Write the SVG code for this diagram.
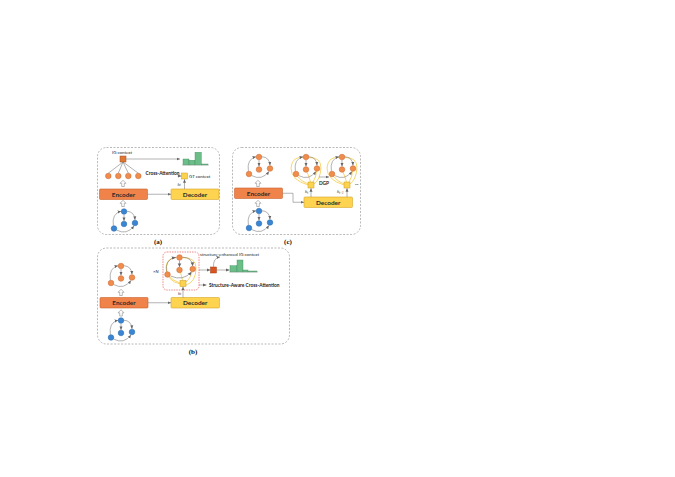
<svg xmlns="http://www.w3.org/2000/svg" width="675" height="477" viewBox="0 0 675 477">
<defs>
<style>
.panel{fill:none;stroke:#8a8a8a;stroke-width:0.6;stroke-dasharray:2 1.5}
.red{fill:none;stroke:#E03C3C;stroke-width:0.6;stroke-dasharray:1.5 1}
.enc{fill:#F0834A;stroke:#C7622C;stroke-width:0.6}
.dec{fill:#FDD34F;stroke:#D6A62A;stroke-width:0.6}
.btxt{font-family:Lato,"Liberation Sans",sans-serif;font-weight:bold;font-size:6.4px;fill:#2a2a2a;text-anchor:middle}
.txt{font-family:Lato,"Liberation Sans",sans-serif;font-size:4.4px;fill:#222}
.bsm{font-family:Lato,"Liberation Sans",sans-serif;font-weight:bold;font-size:4.8px;fill:#222}
.on{fill:#F08D4C;stroke:#C8652E;stroke-width:0.5}
.bn{fill:#3A86D4;stroke:#2866A8;stroke-width:0.5}
.e{fill:none;stroke:#666;stroke-width:0.5}
.ea{fill:none;stroke:#666;stroke-width:0.5;marker-end:url(#ah)}
.y{fill:none;stroke:#F4C430;stroke-width:0.7}
.ysq{fill:#FCD34F;stroke:#C99A25;stroke-width:0.5}
.osq{fill:#E07835;stroke:#A4501E;stroke-width:0.5}
.hist{fill:#6BBE88;stroke:#3E8E5C;stroke-width:0.4}
.base{stroke:#999;stroke-width:0.4}
.hollow{fill:#fff;stroke:#777;stroke-width:0.5}
.lab{font-family:"Liberation Serif",serif;font-weight:bold;font-size:7px;fill:#111;text-anchor:middle}
.it{font-family:"Liberation Serif",serif;font-style:italic;font-size:4.5px;fill:#222}
</style>
<marker id="ah" markerWidth="4" markerHeight="4" refX="3.5" refY="2" orient="auto" markerUnits="userSpaceOnUse">
<path d="M0,0.5 L3.5,2 L0,3.5 Z" fill="#666"/>
</marker>
<g id="ring">
<path class="ea" d="M0,-7 L0,-0.6"/>
<path class="ea" d="M2.6,-10.3 Q10.5,-10 11,-1.6"/>
<path class="ea" d="M-10.6,4.3 Q-12.5,-8 -2.9,-10.3"/>
<path class="ea" d="M-7.3,8.6 Q3,14 10,4.4"/>
</g>
<path id="hol" class="hollow" d="M0,-3.2 L3,-0.2 L1.3,-0.2 L1.3,3 L-1.3,3 L-1.3,-0.2 L-3,-0.2 Z"/>
</defs>
<rect width="675" height="477" fill="#fff"/>

<!-- Panel (a) -->
<g id="panel-a">
<rect class="panel" x="97.5" y="147.5" width="122" height="87" rx="9"/>
<text class="lab" x="158" y="244">(a)</text>
</g>
<g id="a-ig-context">
<text class="txt" x="122" y="154" text-anchor="middle">IG context</text>
<rect class="osq" x="120" y="156" width="6" height="6"/>
</g>
<g id="a-hist">
<rect class="hist" x="183" y="159" width="6" height="6"/>
<rect class="hist" x="189" y="160.3" width="6" height="4.7"/>
<rect class="hist" x="195" y="152.3" width="6.3" height="12.7"/>
<rect class="hist" x="201.3" y="164" width="6.7" height="1"/>
</g>
<g id="a-context-nodes">
<circle class="on" cx="108.3" cy="176" r="2.8"/>
<circle class="on" cx="118.3" cy="176" r="2.8"/>
<circle class="on" cx="128.3" cy="176" r="2.8"/>
<circle class="on" cx="138.3" cy="176" r="2.8"/>
<text class="bsm" x="145.5" y="175" font-size="4.4">Cross-Attention</text>
</g>
<g id="a-gt-context">
<rect class="ysq" x="181.5" y="173" width="6" height="6"/>
<text class="txt" x="189" y="177.5">GT context</text>
<text class="it" x="177.5" y="185.5">h<tspan font-size="3" dy="0.8">t</tspan></text>
</g>
<g id="a-encoder"><rect class="enc" x="99.5" y="189" width="48" height="10.5" rx="1"/><text class="btxt" x="123.5" y="196.5">Encoder</text></g>
<g id="a-decoder"><rect class="dec" x="171" y="189" width="48" height="10.5" rx="1"/><text class="btxt" x="195" y="196.5">Decoder</text></g>
<g id="a-graph">
<use href="#ring" transform="translate(124,221.5)"/>
<circle class="bn" cx="124" cy="211.5" r="2.8"/>
<circle class="bn" cx="114" cy="228.5" r="2.8"/>
<circle class="bn" cx="124" cy="224" r="2.8"/>
<circle class="bn" cx="135" cy="223" r="2.8"/>
</g>

<!-- Panel (c) -->
<g id="panel-c">
<rect class="panel" x="232.5" y="147.5" width="128" height="87" rx="9"/>
<text class="lab" x="288" y="244">(c)</text>
</g>
<g id="c-top-graph">
<use href="#ring" transform="translate(259,167)"/>
<circle class="on" cx="259" cy="157" r="2.8"/>
<circle class="on" cx="249" cy="174" r="2.8"/>
<circle class="on" cx="259" cy="169.5" r="2.8"/>
<circle class="on" cx="270" cy="168.5" r="2.8"/>
</g>
<g id="c-encoder"><rect class="enc" x="234.5" y="188" width="48" height="10.5" rx="1"/><text class="btxt" x="258.5" y="195.5">Encoder</text></g>
<g id="c-decoder"><rect class="dec" x="304" y="197" width="48.5" height="10.5" rx="1"/><text class="btxt" x="328.2" y="204.5">Decoder</text></g>
<g id="c-blue-graph">
<use href="#ring" transform="translate(259,221)"/>
<circle class="bn" cx="259" cy="211" r="2.8"/>
<circle class="bn" cx="249" cy="228" r="2.8"/>
<circle class="bn" cx="259" cy="223.5" r="2.8"/>
<circle class="bn" cx="270" cy="222.5" r="2.8"/>
</g>
<g id="c-dgp1">
<path class="y" d="M303.5,157.5 Q292,156 291,168 Q291,180 308,185"/>
<path class="y" d="M296,175 Q302,182 308,184"/>
<path class="y" d="M306,170 Q309,176 310.5,182"/>
<path class="y" d="M317,169 Q316,178 313,182"/>
<path class="y" d="M308.5,157.5 Q321,157 321,168 Q320,180 314,184"/>
<use href="#ring" transform="translate(306,167)"/>
<circle class="on" cx="306" cy="157" r="2.8"/>
<circle class="on" cx="296" cy="174" r="2.8"/>
<circle class="on" cx="306" cy="169.5" r="2.8"/>
<circle class="on" cx="317" cy="168.5" r="2.8"/>
<rect class="ysq" x="308" y="182" width="6" height="6"/>
<text class="it" x="305" y="193">h<tspan font-size="3" dy="0.8">t</tspan></text>
</g>
<g id="c-dgp2">
<path class="y" d="M339.5,157.5 Q328,156 327,168 Q327,180 344,185"/>
<path class="y" d="M332,175 Q338,182 344,184"/>
<path class="y" d="M342,170 Q345,176 346.5,182"/>
<path class="y" d="M353,169 Q352,178 349,182"/>
<path class="y" d="M344.5,157.5 Q357,157 357,168 Q356,180 350,184"/>
<use href="#ring" transform="translate(342,167)"/>
<circle class="on" cx="342" cy="157" r="2.8"/>
<circle class="on" cx="332" cy="174" r="2.8"/>
<circle class="on" cx="342" cy="169.5" r="2.8"/>
<circle class="on" cx="353" cy="168.5" r="2.8"/>
<rect class="ysq" x="344" y="182" width="6" height="6"/>
<text class="it" x="337" y="193">h<tspan font-size="3" dy="0.8">t+1</tspan></text>
</g>
<g id="c-dgp-label"><text class="bsm" x="324" y="184.5" text-anchor="middle" font-size="4.2">DGP</text><text class="bsm" x="355" y="185" font-size="5">...</text></g>

<!-- Panel (b) -->
<g id="panel-b">
<rect class="panel" x="97.5" y="248" width="192" height="96" rx="9"/>
<text class="lab" x="193" y="354">(b)</text>
</g>
<g id="b-top-graph">
<use href="#ring" transform="translate(121,276)"/>
<circle class="on" cx="121" cy="266" r="2.8"/>
<circle class="on" cx="111" cy="283" r="2.8"/>
<circle class="on" cx="121" cy="278.5" r="2.8"/>
<circle class="on" cx="132" cy="277.5" r="2.8"/>
</g>
<g id="b-encoder"><rect class="enc" x="100" y="297.5" width="48" height="10.5" rx="1"/><text class="btxt" x="124" y="305">Encoder</text></g>
<g id="b-decoder"><rect class="dec" x="171" y="297.5" width="48.5" height="10.5" rx="1"/><text class="btxt" x="195.2" y="305">Decoder</text></g>
<g id="b-blue-graph">
<use href="#ring" transform="translate(121,330.5)"/>
<circle class="bn" cx="121" cy="320.5" r="2.8"/>
<circle class="bn" cx="111" cy="337.5" r="2.8"/>
<circle class="bn" cx="121" cy="333" r="2.8"/>
<circle class="bn" cx="132" cy="332" r="2.8"/>
</g>
<g id="b-sa-block">
<rect class="red" x="163" y="252" width="36" height="38" rx="4"/>
<text class="txt" x="153" y="273">×<tspan font-style="italic">N</tspan></text>
<path class="y" d="M176.5,257.5 Q166,258 166,268 Q167,281 180,284"/>
<path class="y" d="M167.5,274.5 Q173,281 180,283"/>
<path class="y" d="M179.5,270 Q182,276 182.5,280.5"/>
<path class="y" d="M192.7,269 Q191,278 186,282"/>
<path class="y" d="M181.5,257.5 Q196,257 196,268 Q196,282 186,285"/>
<use href="#ring" transform="translate(179.5,267.5) scale(1.2,1)"/>
<circle class="on" cx="179.5" cy="257.5" r="2.8"/>
<circle class="on" cx="167.5" cy="274.5" r="2.8"/>
<circle class="on" cx="179.5" cy="270" r="2.8"/>
<circle class="on" cx="192.7" cy="269" r="2.8"/>
<rect class="ysq" x="180" y="280.5" width="6" height="6"/>
<text class="it" x="178" y="294.5">h<tspan font-size="3" dy="0.8">t</tspan></text>
</g>
<g id="b-se-context">
<rect x="210.5" y="267" width="6" height="6" fill="#D9541E" stroke="#9E3A12" stroke-width="0.5"/>
<text class="txt" x="200" y="255.5" font-size="4.1">structure-enhanced IG context</text>
</g>
<g id="b-hist">
<rect class="hist" x="230" y="265.7" width="7" height="6.3"/>
<rect class="hist" x="237" y="260" width="6" height="12"/>
<rect class="hist" x="243" y="270" width="5" height="2"/>
<rect class="hist" x="248" y="271" width="9" height="1"/>
</g>
<g id="b-sacaa-label"><text class="bsm" x="209" y="286.7">Structure-Aware Cross-Attention</text></g>

<!-- Connectors -->
<g id="connectors">
<use href="#hol" transform="translate(123,183.5)"/>
<use href="#hol" transform="translate(123,203.5)"/>
<path class="e" d="M123,162 L108.3,173.2 M123,162 L118.3,173.2 M123,162 L128.3,173.2 M123,162 L138.3,173.2"/>
<path class="ea" d="M126,159 L180,159"/>
<path class="ea" d="M147.5,194.25 L171,194.25"/>
<path class="ea" d="M184.5,189 L184.5,179.3"/>
<path class="ea" d="M177.5,176 L181.3,176"/>
<use href="#hol" transform="translate(258,183.5)"/>
<use href="#hol" transform="translate(258,203.5)"/>
<path class="ea" d="M282.5,193.25 H293 V202.25 H304"/>
<path class="ea" d="M311,197 L311,188.3"/>
<path class="ea" d="M347,197 L347,188.3"/>
<path class="ea" d="M319,177 L329,177"/>
<use href="#hol" transform="translate(121,292.5)"/>
<use href="#hol" transform="translate(121,313)"/>
<path class="ea" d="M148,302.75 L171,302.75"/>
<path class="ea" d="M183,297.5 L183,286.8"/>
<path class="ea" d="M199,270 L210.3,270"/>
<path class="ea" d="M216.5,270 L229.5,270"/>
<path class="ea" d="M213.5,266.8 Q213,258 220,257"/>
<path class="ea" d="M199,285 L206.5,285"/>
<line class="base" x1="182" y1="165" x2="209" y2="165"/>
<line class="base" x1="229" y1="272" x2="258" y2="272"/>
</g>
</svg>
